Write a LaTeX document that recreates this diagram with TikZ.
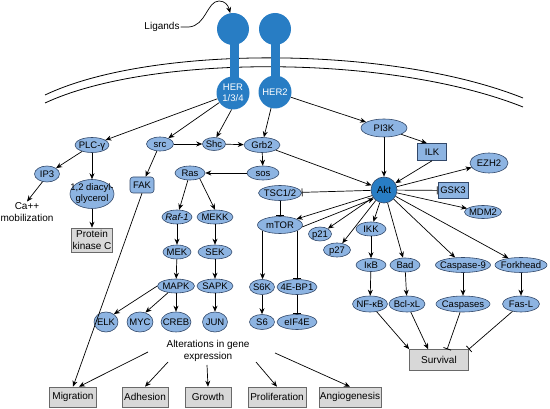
\documentclass[tikz,border=0pt]{standalone}
\usepackage{fontspec}
\setmainfont{Liberation Sans}
\usetikzlibrary{shapes.geometric,arrows.meta}
\definecolor{recblue}{RGB}{40,125,196}
\definecolor{ellfill}{RGB}{141,180,226}
\definecolor{elldraw}{RGB}{50,72,105}
\definecolor{boxfill}{RGB}{216,216,216}
\definecolor{boxdraw}{RGB}{105,105,105}
\newcommand{\zw}[1]{\makebox[0pt]{\raisebox{-0.36em}[0pt][0pt]{#1}}}
\newcommand{\zwt}[1]{\makebox[0pt]{\raisebox{-0.26em}[0pt][0pt]{\begin{tabular}{@{}c@{}}#1\end{tabular}}}}
\begin{document}
\begin{tikzpicture}[x=1pt,y=-1pt,
 font=\fontsize{9.5}{11}\selectfont,
 el/.style={ellipse, draw=elldraw, fill=ellfill, line width=0.6pt, inner sep=0pt},
 gbox/.style={rectangle, draw=boxdraw, fill=boxfill, line width=0.6pt, inner sep=1pt, align=center, font=\fontsize{10}{11.5}\selectfont},
 bbox/.style={rectangle, draw=elldraw, fill=ellfill, line width=0.6pt, inner sep=1pt},
 arr/.style={-{Stealth[length=6pt,width=5pt]}, line width=0.7pt},
 inh/.style={-{Bar[width=8pt,line width=0.8pt]}, line width=0.7pt},
 rec/.style={circle, fill=recblue, inner sep=0pt},
 lbl/.style={align=center, font=\fontsize{10}{11.5}\selectfont, inner sep=1pt},
]
\useasboundingbox (0,0) rectangle (550,409);

% membrane
\draw[line width=0.8pt] (45,95) .. controls (150,45) and (390,45) .. (523,98);
\draw[line width=0.8pt] (45,103) .. controls (150,54) and (390,54) .. (523,107);

% receptors
\fill[recblue] (229.5,40) rectangle (238.5,82);
\fill[recblue] (271,40) rectangle (280,80);
\node[rec, minimum size=32pt] (lig1) at (233,29) {};
\node[rec, minimum size=32pt] (lig2) at (275,29) {};
\node[rec, minimum size=33pt, text=white, align=center] (her1) at (233,93) {HER\\1/3/4};
\node[rec, minimum size=33pt, text=white] (her2) at (275,92) {HER2};

% ligands
\node[lbl] (lig) at (162,27) {Ligands};
\draw[arr] (lig.east) -- ++(8,0) .. controls (206,26) and (207,1) .. (219,1) .. controls (225,1) and (228,5) .. (lig1.100);

% left branch
\node[el, minimum width=34pt, minimum height=15pt] (plc) at (92,145) {\zw{PLC-γ}};
\node[el, minimum width=25pt, minimum height=16pt] (ip3) at (47,174) {\zw{IP3}};
\node[el, minimum width=44pt, minimum height=29pt] (dag) at (92,194) {\zwt{1,2 diacyl-\\glycerol}};
\node[lbl] (ca) at (27,212) {Ca++\\mobilization};
\node[gbox, minimum width=40pt, minimum height=24pt] (pkc) at (92,240) {Protein\\kinase C};

\node[el, minimum width=27pt, minimum height=14pt] (src) at (160,144) {\zw{src}};
\node[bbox, rounded corners=3pt, minimum width=24pt, minimum height=16pt] (fak) at (142,185) {FAK};
\node[el, minimum width=23pt, minimum height=13pt] (shc) at (214,144) {\zw{Shc}};
\node[el, minimum width=36pt, minimum height=15pt] (grb) at (262,145) {\zw{Grb2}};
\node[el, minimum width=32pt, minimum height=14pt] (sos) at (263,173) {\zw{sos}};
\node[el, minimum width=30pt, minimum height=14pt] (ras) at (190,173) {\zw{Ras}};
\node[el, minimum width=30pt, minimum height=14pt] (raf) at (177,217) {\zw{\textit{Raf-1}}};
\node[el, minimum width=36pt, minimum height=14pt] (mekk) at (215,217) {\zw{MEKK}};
\node[el, minimum width=28pt, minimum height=14pt] (mek) at (177,252) {\zw{MEK}};
\node[el, minimum width=34pt, minimum height=14pt] (sek) at (215,252) {\zw{SEK}};
\node[el, minimum width=37pt, minimum height=14pt] (mapk) at (176,286) {\zw{MAPK}};
\node[el, minimum width=36pt, minimum height=14pt] (sapk) at (215,286) {\zw{SAPK}};
\node[el, minimum width=24pt, minimum height=20pt] (elk) at (106,322) {\zw{ELK}};
\node[el, minimum width=26pt, minimum height=20pt] (myc) at (140,322) {\zw{MYC}};
\node[el, minimum width=30pt, minimum height=20pt] (creb) at (176,322) {\zw{CREB}};
\node[el, minimum width=25pt, minimum height=20pt] (jun) at (215,322) {\zw{JUN}};

% mTOR branch
\node[el, minimum width=43pt, minimum height=15pt] (tsc) at (280,193) {\zw{TSC1/2}};
\node[el, minimum width=45pt, minimum height=17pt] (mtor) at (280,225) {\zw{mTOR}};
\node[el, minimum width=25pt, minimum height=15pt] (s6k) at (262,287) {\zw{S6K}};
\node[el, minimum width=40pt, minimum height=15pt] (ebp) at (297,287) {\zw{4E-BP1}};
\node[el, minimum width=25pt, minimum height=15pt] (s6) at (262,322) {\zw{S6}};
\node[el, minimum width=40pt, minimum height=15pt] (eif) at (297,322) {\zw{eIF4E}};
\node[el, minimum width=23pt, minimum height=14pt] (p21) at (320,234) {\zw{p21}};
\node[el, minimum width=27pt, minimum height=14pt] (p27) at (337,250) {\zw{p27}};

% Akt branch
\node[circle, fill=recblue, draw=elldraw, line width=0.6pt, minimum size=26pt, inner sep=0pt, font=\fontsize{10}{11}\selectfont] (akt) at (384,190) {Akt};
\node[el, minimum width=46pt, minimum height=18pt] (pi3k) at (384,128) {\zw{PI3K}};
\node[bbox, minimum width=29pt, minimum height=17pt] (ilk) at (432,152) {ILK};
\node[el, minimum width=38pt, minimum height=20pt] (ezh2) at (489,163) {\zw{EZH2}};
\node[bbox, minimum width=30pt, minimum height=16pt] (gsk3) at (453,190.5) {GSK3};
\node[el, minimum width=37pt, minimum height=13pt] (mdm2) at (483,212) {\zw{MDM2}};
\node[el, minimum width=30pt, minimum height=14pt] (ikk) at (371,229) {\zw{IKK}};
\node[el, minimum width=30pt, minimum height=13pt] (ikb) at (371,265) {\zw{IκB}};
\node[el, minimum width=30pt, minimum height=14pt] (bad) at (405,265) {\zw{Bad}};
\node[el, minimum width=55pt, minimum height=15pt] (cas9) at (463,265) {\zw{Caspase-9}};
\node[el, minimum width=52pt, minimum height=15pt] (fork) at (521,265) {\zw{Forkhead}};
\node[el, minimum width=35pt, minimum height=16pt] (nfkb) at (370,304) {\zw{NF-κB}};
\node[el, minimum width=36pt, minimum height=16pt] (bcl) at (407,304) {\zw{Bcl-xL}};
\node[el, minimum width=54pt, minimum height=16pt] (casp) at (463,304) {\zw{Caspases}};
\node[el, minimum width=37pt, minimum height=16pt] (fasl) at (521,304) {\zw{Fas-L}};
\node[gbox, minimum width=59pt, minimum height=21pt] (surv) at (439,360) {Survival};

% outcomes
\node[lbl] (alt) at (208,351) {Alterations in gene\\expression};
\node[gbox, minimum width=47pt, minimum height=20pt] (mig) at (73,397) {Migration};
\node[gbox, minimum width=46pt, minimum height=20pt] (adh) at (145,397) {Adhesion};
\node[gbox, minimum width=46pt, minimum height=20pt] (gro) at (208,397) {Growth};
\node[gbox, minimum width=58pt, minimum height=20pt] (pro) at (277,397) {Proliferation};
\node[gbox, minimum width=61pt, minimum height=20pt] (ang) at (350,397) {Angiogenesis};
\coordinate (a1) at (148,352);
\coordinate (a2) at (168,362);
\coordinate (a3) at (207,365);
\coordinate (a4) at (256,362);
\coordinate (a5) at (275,353);

% connectors: receptors
\draw[arr] (her1) -- (plc);
\draw[arr] (her1) -- (src);
\draw[arr] (her1.265) -- (shc.70);
\draw[arr] (her2) -- (grb);
\draw[arr] (her2) -- (pi3k);

% left
\draw[arr] (plc) -- (ip3);
\draw[arr] (plc) -- (dag);
\draw[arr] (ip3.240) -- (ca.north);
\draw[arr] (dag) -- (pkc);
\draw[arr] (src) -- (shc);
\draw[arr] (shc) -- (grb);
\draw[arr] (src) -- (fak);
\draw[arr] (fak.south) -- (mig.north);
\draw[arr] (grb) -- (sos);
\draw[arr] (grb) -- (akt);
\draw[arr] (sos) -- (ras);
\draw[arr] (ras) -- (raf);
\draw[arr] (ras.-30) -- (mekk.north);
\draw[arr] (raf) -- (mek);
\draw[arr] (mekk) -- (sek);
\draw[arr] (mek) -- (mapk);
\draw[arr] (sek) -- (sapk);
\draw[arr] (sapk) -- (jun);
\draw[arr] (mapk.west) -- (elk.45);
\draw[arr] (mapk.-140) -- (myc.60);
\draw[arr] (mapk) -- (creb);

% mTOR
\draw[inh] (tsc) -- (mtor);
\draw[arr] (mtor.198) -- (mtor.198 |- s6k.north);
\draw[inh] (mtor.-18) -- (mtor.-18 |- ebp.north);
\draw[arr] (s6k) -- (s6);
\draw[inh] (ebp) -- (eif);

% Akt
\draw[arr] (pi3k) -- (akt);
\draw[arr] (pi3k.-20) -- (ilk.120);
\draw[arr] (ilk.south) -- (akt);
\draw[arr] (akt) -- (ezh2);
\draw[inh] (akt) -- (gsk3);
\draw[arr] (akt) -- (mdm2);
\draw[inh] (akt) -- (tsc);
\draw[arr] (akt.205) -- (mtor.20);
\draw[arr] (mtor.-5) -- (akt.220);
\draw[arr] (akt) -- (p21);
\draw[arr] (akt) -- (p27);
\draw[arr] (akt) -- (ikk);
\draw[arr] (akt) -- (bad);
\draw[arr] (akt) -- (cas9);
\draw[arr] (akt) -- (fork);
\draw[arr] (ikk) -- (ikb);
\draw[arr] (ikb) -- (nfkb);
\draw[arr] (bad) -- (bcl);
\draw[arr] (cas9) -- (casp);
\draw[arr] (fork) -- (fasl);
\draw[arr] (nfkb) -- (surv.north west);
\draw[arr] (bcl) -- (surv.135);
\draw[inh] (casp) -- (surv.53);
\draw[inh] (fasl) -- (surv.north east);

% outcomes
\draw[arr] (a1) -- (mig.60);
\draw[arr] (a2) -- (adh.north);
\draw[arr] (a3) -- (gro.north);
\draw[arr] (a4) -- (pro.north);
\draw[arr] (a5) -- (ang.north);
\end{tikzpicture}
\end{document}
